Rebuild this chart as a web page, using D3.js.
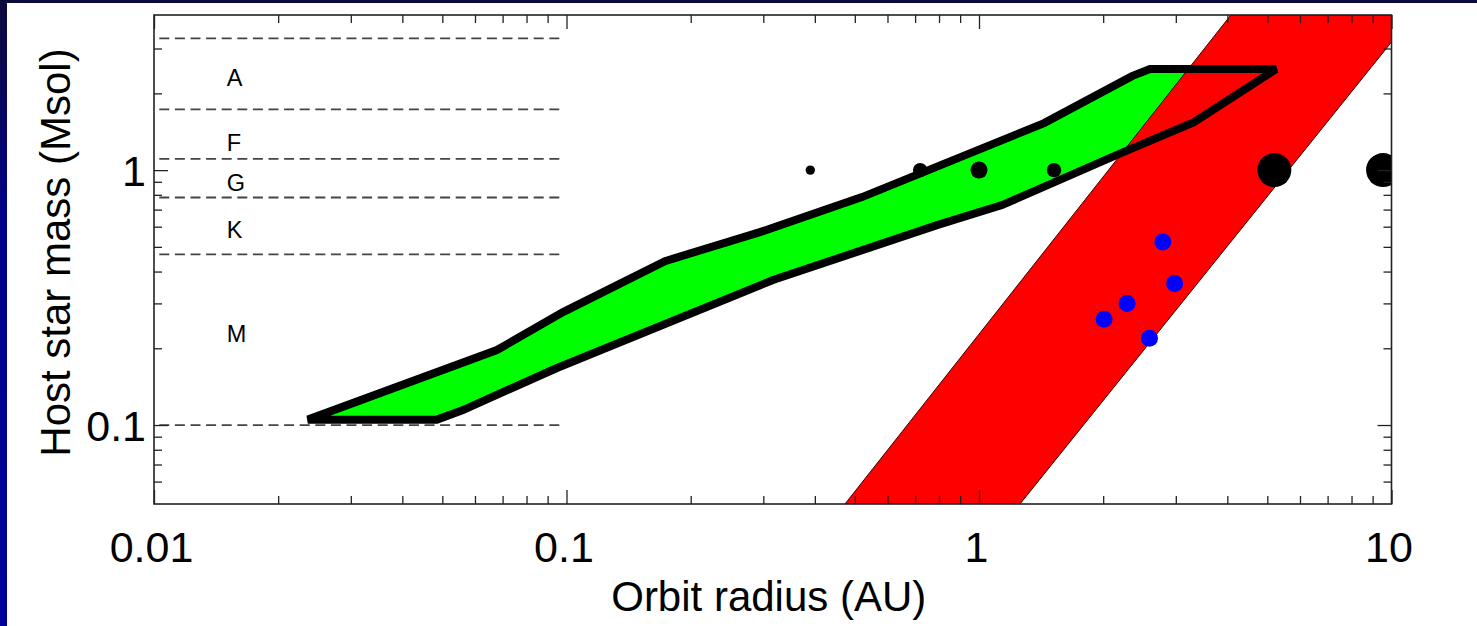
<!DOCTYPE html>
<html><head><meta charset="utf-8">
<script src="https://cdn.jsdelivr.net/npm/d3@7"></script>
<style>
html,body{margin:0;padding:0;background:#0a0a3c;overflow:hidden;}
svg{display:block;}
text{font-family:"Liberation Sans",Arial,Helvetica,sans-serif;}
</style>
</head><body>
<svg id="c" width="1477" height="626"></svg>
<script>
// ---------- data ----------
const xTickValues = [0.01, 0.1, 1, 10];
const xTickLabels = ["0.01", "0.1", "1", "10"];
const yTickValues = [0.1, 1];
const yTickLabels = ["0.1", "1"];
const xTitle = "Orbit radius (AU)";
const yTitle = "Host star mass (Msol)";

const spectralClasses = ["A", "F", "G", "K", "M"];
const spectralLabelMass = [2.135, 1.187, 0.827, 0.543, 0.212];
const spectralLabelOrbit = 0.0150;
const classBoundaryMass = [3.29, 1.73, 1.107, 0.781, 0.467, 0.1];
const classBoundaryOrbit = [0.01, 0.0978];

// habitable zone outline (upper edge, then lower edge back)
const hzUpperOrbit = [0.0236, 0.0678, 0.0981, 0.1733, 0.2944, 0.5204, 1.438, 2.349, 2.597, 5.25];
const hzUpperMass  = [0.105, 0.1968, 0.2774, 0.4396, 0.5712, 0.7836, 1.529, 2.337, 2.49, 2.49];
const hzLowerOrbit = [3.32, 2.209, 1.137, 0.791, 0.3166, 0.0948, 0.0561, 0.0485];
const hzLowerMass  = [1.542, 1.166, 0.729, 0.6085, 0.3704, 0.1674, 0.1145, 0.105];

// snow-line band
const snowOrbit = [0.4733, 4.08, 10, 10, 1.257];
const snowMass  = [0.049, 4.06, 4.06, 3.18, 0.049];

// solar system planets
const solarOrbit = [0.39, 0.72, 1.0, 1.52, 5.2, 9.54];
const solarMass  = [1, 1, 1, 1, 1, 1];
const solarSymSize = [0.55, 0.85, 1, 0.85, 2, 2];

// microlensing planets
const lensOrbit = [2.01, 2.285, 2.98, 2.59, 2.79];
const lensMass  = [0.26, 0.30, 0.359, 0.219, 0.523];
const lensSymSize = [1, 1, 1, 1, 1];

// ---------- drawing ----------
const W = 1477, H = 626;
const svg = d3.select("#c");
const defs = svg.append("defs");

const grad = defs.append("linearGradient").attr("id", "bg").attr("x1", 0).attr("y1", 0).attr("x2", 0).attr("y2", 1);
grad.append("stop").attr("offset", "0%").attr("stop-color", "#0b0b3a");
grad.append("stop").attr("offset", "35%").attr("stop-color", "#00008a");
grad.append("stop").attr("offset", "100%").attr("stop-color", "#00009a");

svg.append("rect").attr("width", W).attr("height", H).attr("fill", "url(#bg)");
svg.append("rect").attr("x", 0).attr("y", 0).attr("width", W).attr("height", 3).attr("fill", "#0a0a3c");
svg.append("rect").attr("x", 7).attr("y", 3).attr("width", W - 7).attr("height", H - 3).attr("fill", "#ffffff");

const x = d3.scaleLog().domain([0.01, 10]).range([154, 1391.5]);
const y = d3.scaleLog().domain([0.049, 4.06]).range([504, 15]);
const [x0, x1] = x.range();
const [y0, y1] = y.range();

defs.append("clipPath").attr("id", "plot").append("rect")
  .attr("x", x0).attr("y", y1).attr("width", x1 - x0).attr("height", y0 - y1);

const plot = svg.append("g").attr("clip-path", "url(#plot)");

// spectral class boundaries
plot.selectAll("line.cls").data(classBoundaryMass).join("line")
  .attr("class", "cls")
  .attr("x1", x(classBoundaryOrbit[0])).attr("x2", x(classBoundaryOrbit[1]))
  .attr("y1", d => y(d)).attr("y2", d => y(d))
  .attr("stroke", "#444").attr("stroke-width", 1.8)
  .attr("stroke-dasharray", "10 5.6").attr("stroke-dashoffset", 10.3);

svg.selectAll("text.cls").data(spectralClasses).join("text")
  .attr("class", "cls")
  .attr("x", x(spectralLabelOrbit))
  .attr("y", (d, i) => y(spectralLabelMass[i]))
  .attr("font-size", 23.5).attr("fill", "#000")
  .text(d => d);

// habitable zone polygon
const hzPts = hzUpperOrbit.map((a, i) => [x(a), y(hzUpperMass[i])])
  .concat(hzLowerOrbit.map((a, i) => [x(a), y(hzLowerMass[i])]));
const line = d3.line().curve(d3.curveLinearClosed);
plot.append("path").attr("d", line(hzPts)).attr("fill", "#00ff00").attr("stroke", "none");

// snow line band
const snowPts = snowOrbit.map((a, i) => [x(a), y(snowMass[i])]);
plot.append("path").attr("d", line(snowPts)).attr("fill", "#ff0000")
  .attr("stroke", "#300").attr("stroke-width", 1);

// HZ outline on top
plot.append("path").attr("d", line(hzPts)).attr("fill", "none")
  .attr("stroke", "#000").attr("stroke-width", 8)
  .attr("stroke-linejoin", "miter").attr("stroke-miterlimit", 1.6);

// solar system planets
const rUnit = 8.5;
plot.selectAll("circle.sol").data(solarOrbit).join("circle")
  .attr("class", "sol")
  .attr("cx", d => x(d)).attr("cy", (d, i) => y(solarMass[i]))
  .attr("r", (d, i) => rUnit * solarSymSize[i]).attr("fill", "#000");

// microlensing planets
plot.selectAll("circle.lens").data(lensOrbit).join("circle")
  .attr("class", "lens")
  .attr("cx", d => x(d)).attr("cy", (d, i) => y(lensMass[i]))
  .attr("r", (d, i) => rUnit * lensSymSize[i]).attr("fill", "#0000ff");

// ---------- axes ----------
function minorTicks(scale) {
  const [a, b] = scale.domain();
  const out = [];
  for (let e = Math.floor(Math.log10(a)); e <= Math.ceil(Math.log10(b)); e++) {
    for (let k = 2; k <= 9; k++) {
      const v = k * Math.pow(10, e);
      const p = scale(v);
      const [r0, r1] = d3.extent(scale.range());
      if (p > r0 + 3 && p < r1 - 3) out.push(v);
    }
  }
  return out;
}
const xMinor = minorTicks(x);
const yMinor = minorTicks(y);
const tickColor = "#222";

function styleAxis(g) {
  g.select(".domain").remove();
  g.selectAll(".tick line").attr("stroke", tickColor).attr("stroke-width", 1.3);
}

// bottom
const gB = svg.append("g").attr("transform", `translate(0,${y0})`);
gB.append("g").call(d3.axisBottom(x).tickValues(xMinor).tickSizeInner(-8).tickSizeOuter(0).tickFormat("")).call(styleAxis);
const gBM = gB.append("g").call(d3.axisBottom(x).tickValues(xTickValues).tickSizeInner(-14).tickSizeOuter(0)
  .tickFormat((d, i) => xTickLabels[i])).call(styleAxis);
gBM.selectAll("text").attr("dy", null).attr("y", 58).attr("x", -3).attr("font-size", 43)
  .attr("font-family", '"Liberation Sans", Arial, sans-serif').attr("fill", "#000");

// top
const gT = svg.append("g").attr("transform", `translate(0,${y1})`);
gT.append("g").call(d3.axisTop(x).tickValues(xMinor).tickSizeInner(-8).tickSizeOuter(0).tickFormat("")).call(styleAxis);
gT.append("g").call(d3.axisTop(x).tickValues(xTickValues).tickSizeInner(-14).tickSizeOuter(0).tickFormat("")).call(styleAxis);

// left
const gL = svg.append("g").attr("transform", `translate(${x0},0)`);
gL.append("g").call(d3.axisLeft(y).tickValues(yMinor).tickSizeInner(-8).tickSizeOuter(0).tickFormat("")).call(styleAxis);
const gLM = gL.append("g").call(d3.axisLeft(y).tickValues(yTickValues).tickSizeInner(-14).tickSizeOuter(0)
  .tickFormat((d, i) => yTickLabels[i])).call(styleAxis);
gLM.selectAll("text").attr("dy", null).attr("x", -8).attr("y", 15).attr("text-anchor", "end")
  .attr("font-size", 43).attr("font-family", '"Liberation Sans", Arial, sans-serif').attr("fill", "#000");

// right
const gR = svg.append("g").attr("transform", `translate(${x1},0)`);
gR.append("g").call(d3.axisRight(y).tickValues(yMinor).tickSizeInner(-8).tickSizeOuter(0).tickFormat("")).call(styleAxis);
gR.append("g").call(d3.axisRight(y).tickValues(yTickValues).tickSizeInner(-14).tickSizeOuter(0).tickFormat("")).call(styleAxis);

// frame
svg.append("rect").attr("x", x0).attr("y", y1).attr("width", x1 - x0).attr("height", y0 - y1)
  .attr("fill", "none").attr("stroke", tickColor).attr("stroke-width", 1.6);

// titles
svg.append("text").attr("x", (x0 + x1) / 2 - 4).attr("y", 611)
  .attr("text-anchor", "middle").attr("font-size", 42).attr("fill", "#000").text(xTitle);
svg.append("text").attr("transform", `translate(70,${(y0 + y1) / 2 - 7}) rotate(-90)`)
  .attr("text-anchor", "middle").attr("font-size", 42).attr("fill", "#000").text(yTitle);
</script>
</body></html>
